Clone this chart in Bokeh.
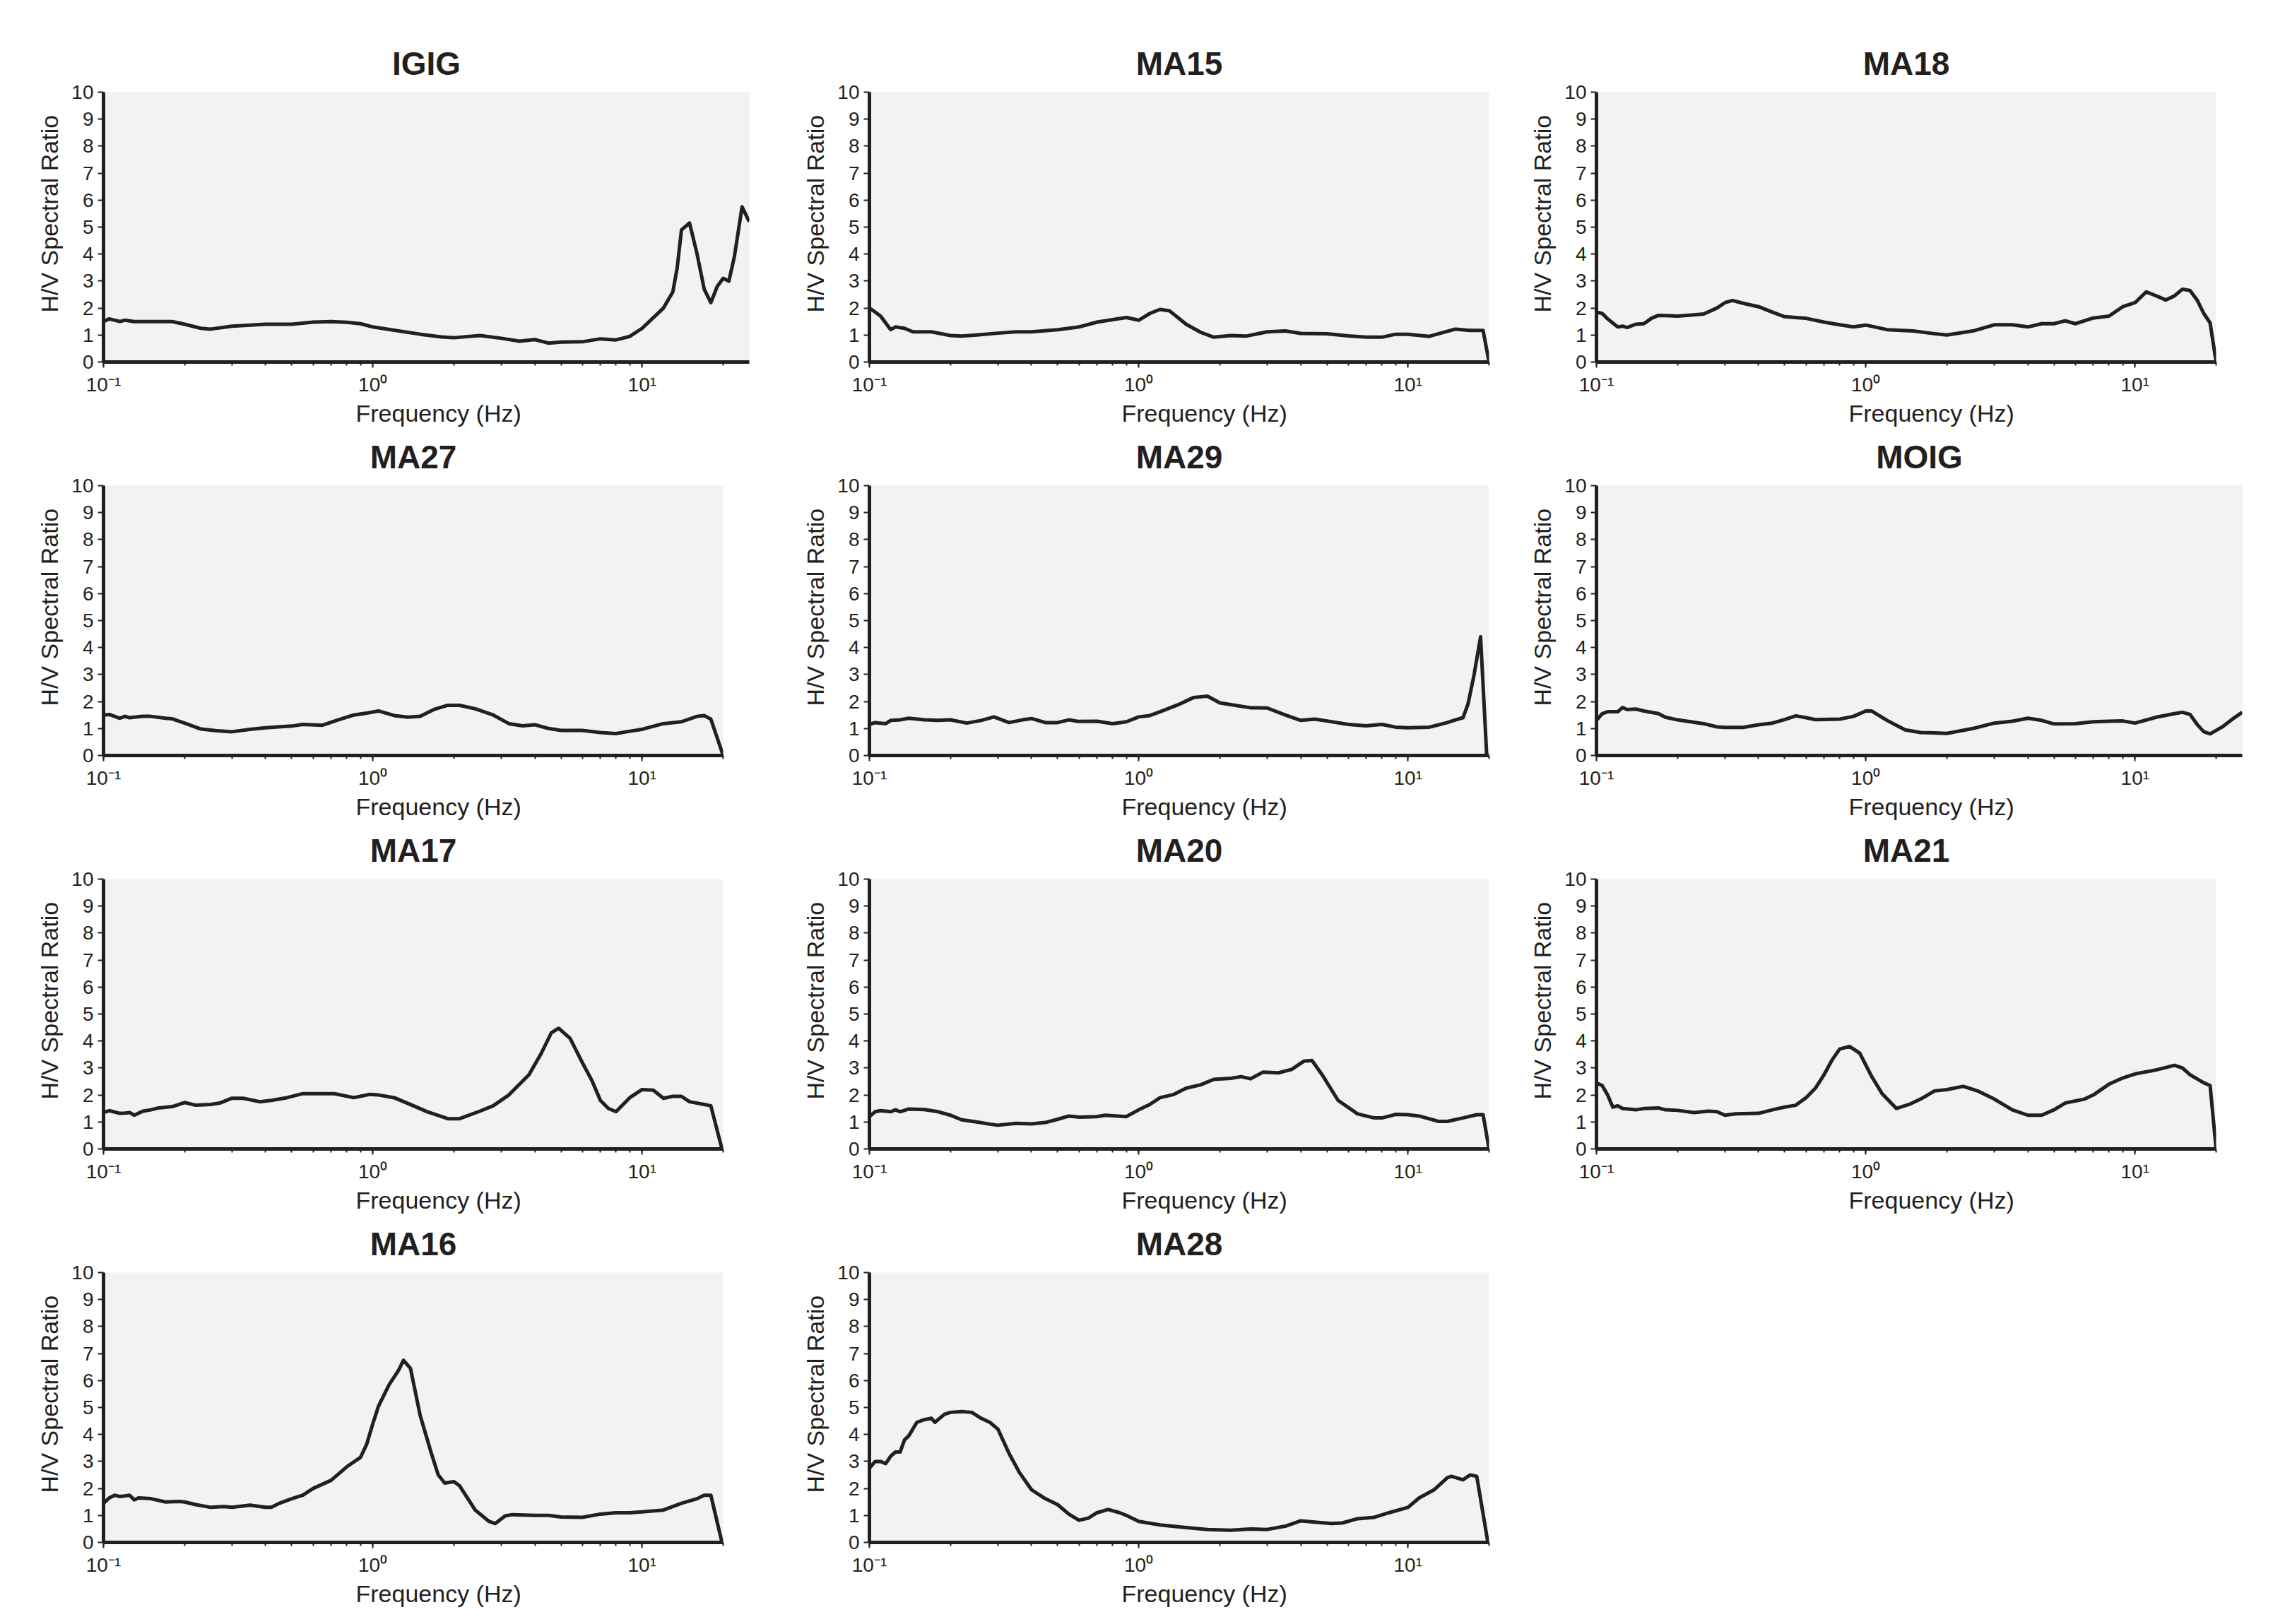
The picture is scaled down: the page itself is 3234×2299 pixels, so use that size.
import math
from bokeh.plotting import figure
from bokeh.layouts import column, row
from bokeh.models import Range1d, FixedTicker, CustomJSTickFormatter, Title
from bokeh.embed import file_html
from bokeh.resources import INLINE

# ---------------- data ----------------
igig_freq = [0.1, 0.105, 0.115, 0.12, 0.13, 0.15, 0.18, 0.2, 0.23, 0.25, 0.3, 0.4, 0.5, 0.6, 0.7, 0.8, 0.9, 1.0,
             1.2, 1.5, 1.8, 2.0, 2.5, 3.0, 3.5, 4.0, 4.5, 5.0, 6.0, 7.0, 8.0, 9.0, 10, 12, 13, 13.5, 14, 15, 16,
             17, 18, 19, 20, 21, 22, 23.5, 25]
igig_hv = [1.5, 1.6, 1.5, 1.55, 1.5, 1.5, 1.5, 1.4, 1.25, 1.22, 1.33, 1.4, 1.4, 1.48, 1.5, 1.47, 1.42, 1.3,
           1.18, 1.03, 0.93, 0.9, 0.98, 0.88, 0.77, 0.83, 0.7, 0.74, 0.75, 0.86, 0.82, 0.95, 1.25, 2.0, 2.6, 3.5,
           4.9, 5.15, 4.0, 2.7, 2.2, 2.8, 3.1, 3.0, 3.9, 5.75, 5.2]

ma15_freq = [0.1, 0.105, 0.11, 0.12, 0.125, 0.135, 0.145, 0.16, 0.17, 0.2, 0.22, 0.25, 0.3, 0.35, 0.4, 0.5, 0.6,
             0.7, 0.8, 0.9, 1.0, 1.1, 1.2, 1.3, 1.5, 1.7, 1.9, 2.2, 2.5, 3, 3.5, 4, 5, 6, 7, 8, 9, 10, 12, 13,
             15, 17, 19, 20]
ma15_hv = [2.0, 1.85, 1.7, 1.2, 1.3, 1.25, 1.12, 1.12, 1.12, 0.98, 0.96, 1.0, 1.07, 1.12, 1.12, 1.2, 1.3, 1.48,
           1.57, 1.65, 1.55, 1.8, 1.95, 1.9, 1.4, 1.1, 0.92, 0.98, 0.96, 1.12, 1.15, 1.06, 1.05, 0.97, 0.92, 0.92,
           1.03, 1.03, 0.95, 1.05, 1.22, 1.17, 1.17, 0.0]

ma18_freq = [0.1, 0.105, 0.11, 0.12, 0.125, 0.13, 0.14, 0.15, 0.16, 0.17, 0.18, 0.2, 0.23, 0.25, 0.28, 0.3, 0.32,
             0.35, 0.4, 0.45, 0.5, 0.6, 0.7, 0.8, 0.9, 1.0, 1.2, 1.5, 1.8, 2.0, 2.5, 3, 3.5, 4, 4.5, 5, 5.5, 6,
             7, 8, 9, 10, 11, 12, 13, 14, 15, 16, 17, 18, 19, 20]
ma18_hv = [1.85, 1.8, 1.6, 1.3, 1.33, 1.28, 1.4, 1.42, 1.62, 1.73, 1.72, 1.7, 1.75, 1.78, 2.0, 2.2, 2.28, 2.18,
           2.05, 1.85, 1.68, 1.62, 1.48, 1.38, 1.3, 1.37, 1.2, 1.15, 1.05, 1.0, 1.15, 1.38, 1.38, 1.3, 1.42, 1.42,
           1.53, 1.42, 1.63, 1.7, 2.05, 2.2, 2.6, 2.45, 2.3, 2.45, 2.7, 2.65, 2.3, 1.8, 1.45, 0.0]

ma27_freq = [0.1, 0.105, 0.115, 0.12, 0.125, 0.13, 0.14, 0.15, 0.17, 0.18, 0.2, 0.23, 0.26, 0.3, 0.35, 0.4, 0.5,
             0.55, 0.65, 0.75, 0.85, 0.95, 1.05, 1.2, 1.35, 1.5, 1.7, 1.9, 2.1, 2.4, 2.8, 3.2, 3.6, 4.0, 4.5, 5,
             6, 7, 8, 9, 10, 12, 14, 16, 17, 18, 20]
ma27_hv = [1.5, 1.52, 1.38, 1.45, 1.4, 1.42, 1.45, 1.45, 1.38, 1.36, 1.2, 0.98, 0.92, 0.88, 0.97, 1.03, 1.09,
           1.15, 1.12, 1.33, 1.5, 1.57, 1.65, 1.48, 1.42, 1.45, 1.72, 1.86, 1.86, 1.73, 1.5, 1.18, 1.1, 1.14, 1.0,
           0.93, 0.93, 0.85, 0.81, 0.9, 0.97, 1.18, 1.25, 1.45, 1.48, 1.35, 0.0]

ma29_freq = [0.1, 0.105, 0.115, 0.12, 0.13, 0.14, 0.16, 0.18, 0.2, 0.23, 0.26, 0.29, 0.33, 0.37, 0.4, 0.45, 0.5,
             0.55, 0.6, 0.7, 0.8, 0.9, 1.0, 1.1, 1.2, 1.4, 1.6, 1.8, 2.0, 2.3, 2.6, 3.0, 3.5, 4.0, 4.5, 5.0, 6.0,
             7.0, 8.0, 9.0, 10, 12, 14, 15, 16, 16.7, 17.6, 18.6, 19.6]
ma29_hv = [1.15, 1.22, 1.18, 1.3, 1.32, 1.38, 1.32, 1.3, 1.32, 1.2, 1.3, 1.43, 1.22, 1.32, 1.37, 1.22, 1.22, 1.32,
           1.26, 1.27, 1.18, 1.25, 1.43, 1.48, 1.62, 1.88, 2.15, 2.2, 1.95, 1.85, 1.77, 1.76, 1.5, 1.3, 1.35, 1.28,
           1.15, 1.1, 1.15, 1.05, 1.03, 1.05, 1.22, 1.32, 1.4, 1.9, 3.0, 4.4, 0.0]

moig_freq = [0.1, 0.105, 0.11, 0.12, 0.125, 0.13, 0.14, 0.15, 0.17, 0.18, 0.2, 0.25, 0.28, 0.3, 0.35, 0.4, 0.45,
             0.5, 0.55, 0.6, 0.65, 0.8, 0.9, 1.0, 1.05, 1.2, 1.4, 1.6, 1.8, 2.0, 2.5, 3, 3.5, 4, 4.5, 5, 6, 7, 8,
             9, 10, 12, 14, 15, 16, 17, 18, 19, 21, 23, 25]
moig_hv = [1.3, 1.55, 1.62, 1.62, 1.78, 1.7, 1.72, 1.65, 1.55, 1.42, 1.32, 1.18, 1.06, 1.04, 1.04, 1.14, 1.2, 1.33,
           1.47, 1.4, 1.33, 1.35, 1.45, 1.65, 1.65, 1.3, 0.95, 0.85, 0.84, 0.82, 1.0, 1.2, 1.27, 1.38, 1.3, 1.17,
           1.18, 1.25, 1.27, 1.28, 1.2, 1.42, 1.55, 1.6, 1.52, 1.15, 0.88, 0.8, 1.05, 1.35, 1.6]

ma17_freq = [0.1, 0.105, 0.115, 0.12, 0.125, 0.13, 0.14, 0.15, 0.16, 0.18, 0.2, 0.22, 0.25, 0.27, 0.3, 0.33, 0.38,
             0.42, 0.48, 0.55, 0.65, 0.72, 0.85, 0.97, 1.05, 1.2, 1.4, 1.6, 1.9, 2.1, 2.5, 2.8, 3.2, 3.8, 4.2, 4.6,
             4.9, 5.4, 6, 6.5, 7, 7.5, 8, 9, 10, 11, 12, 13, 14, 15, 17, 18, 19.8]
ma17_hv = [1.35, 1.42, 1.32, 1.33, 1.35, 1.25, 1.4, 1.45, 1.52, 1.57, 1.72, 1.62, 1.65, 1.7, 1.88, 1.88, 1.75,
           1.8, 1.9, 2.05, 2.05, 2.05, 1.9, 2.02, 2.0, 1.9, 1.62, 1.37, 1.12, 1.12, 1.4, 1.6, 2.0, 2.75, 3.5, 4.3,
           4.47, 4.1, 3.2, 2.55, 1.8, 1.5, 1.38, 1.9, 2.2, 2.18, 1.88, 1.95, 1.95, 1.75, 1.65, 1.6, 0.0]

ma20_freq = [0.1, 0.105, 0.11, 0.12, 0.125, 0.13, 0.14, 0.16, 0.18, 0.2, 0.22, 0.25, 0.28, 0.3, 0.35, 0.4, 0.45,
             0.5, 0.55, 0.6, 0.7, 0.75, 0.9, 1.0, 1.1, 1.2, 1.35, 1.5, 1.7, 1.9, 2.2, 2.4, 2.6, 2.9, 3.3, 3.7, 4.1,
             4.4, 4.8, 5.5, 6.5, 7.5, 8, 9, 10, 11, 13, 14, 16, 18, 19, 20]
ma20_hv = [1.2, 1.38, 1.42, 1.38, 1.45, 1.38, 1.48, 1.46, 1.38, 1.25, 1.08, 1.0, 0.92, 0.88, 0.95, 0.93, 0.98, 1.1,
           1.22, 1.18, 1.2, 1.25, 1.2, 1.45, 1.65, 1.9, 2.02, 2.25, 2.38, 2.58, 2.62, 2.68, 2.6, 2.85, 2.82, 2.95,
           3.25, 3.28, 2.75, 1.8, 1.3, 1.15, 1.15, 1.28, 1.27, 1.22, 1.02, 1.02, 1.15, 1.27, 1.27, 0.0]

ma21_freq = [0.1, 0.105, 0.11, 0.115, 0.12, 0.125, 0.14, 0.15, 0.17, 0.18, 0.2, 0.23, 0.26, 0.28, 0.3, 0.33, 0.4,
             0.45, 0.5, 0.55, 0.6, 0.65, 0.7, 0.75, 0.8, 0.87, 0.95, 1.05, 1.15, 1.3, 1.45, 1.6, 1.8, 2.0, 2.3, 2.6,
             3.0, 3.5, 4.0, 4.5, 5.0, 5.5, 6.5, 7, 8, 9, 10, 12, 14, 15, 16, 18, 19, 20]
ma21_hv = [2.45, 2.35, 2.0, 1.55, 1.6, 1.5, 1.45, 1.5, 1.52, 1.45, 1.43, 1.35, 1.4, 1.38, 1.25, 1.3, 1.32, 1.45,
           1.55, 1.62, 1.9, 2.25, 2.75, 3.3, 3.7, 3.8, 3.55, 2.7, 2.05, 1.5, 1.65, 1.85, 2.15, 2.2, 2.32, 2.15,
           1.85, 1.45, 1.25, 1.25, 1.45, 1.7, 1.85, 2.0, 2.4, 2.63, 2.78, 2.93, 3.1, 3.0, 2.75, 2.45, 2.35, 0.0]

ma16_freq = [0.1, 0.105, 0.11, 0.115, 0.12, 0.125, 0.13, 0.135, 0.15, 0.17, 0.19, 0.2, 0.22, 0.25, 0.28, 0.3,
             0.35, 0.4, 0.42, 0.45, 0.5, 0.55, 0.6, 0.7, 0.8, 0.9, 0.95, 1.0, 1.05, 1.15, 1.25, 1.3, 1.38, 1.5,
             1.65, 1.75, 1.85, 2.0, 2.1, 2.4, 2.7, 2.85, 3.1, 3.3, 4, 4.5, 5, 6, 7, 8, 9, 10, 12, 14, 16, 17, 18,
             19.8]
ma16_hv = [1.45, 1.65, 1.75, 1.7, 1.72, 1.75, 1.58, 1.65, 1.62, 1.5, 1.52, 1.5, 1.4, 1.3, 1.33, 1.3, 1.38, 1.3,
           1.3, 1.45, 1.62, 1.75, 2.0, 2.3, 2.8, 3.15, 3.65, 4.4, 5.05, 5.85, 6.4, 6.75, 6.45, 4.7, 3.3, 2.5, 2.2,
           2.25, 2.1, 1.2, 0.78, 0.7, 0.98, 1.03, 1.0, 1.0, 0.94, 0.93, 1.05, 1.1, 1.1, 1.13, 1.2, 1.45, 1.62,
           1.75, 1.75, 0.0]

ma28_freq = [0.1, 0.105, 0.11, 0.115, 0.12, 0.125, 0.13, 0.135, 0.14, 0.15, 0.16, 0.17, 0.175, 0.18, 0.19, 0.2,
             0.22, 0.24, 0.26, 0.28, 0.3, 0.33, 0.36, 0.4, 0.45, 0.5, 0.55, 0.6, 0.65, 0.7, 0.77, 0.85, 0.9, 1.0,
             1.2, 1.5, 1.8, 2.2, 2.6, 3.0, 3.5, 4.0, 4.5, 5.2, 5.7, 6.5, 7.5, 8.5, 10, 11, 12.5, 14, 14.5, 16, 17,
             18, 19.8]
ma28_hv = [2.75, 3.0, 3.0, 2.92, 3.2, 3.35, 3.35, 3.8, 3.95, 4.45, 4.55, 4.6, 4.45, 4.55, 4.75, 4.82, 4.85, 4.82,
           4.6, 4.45, 4.2, 3.3, 2.6, 1.95, 1.62, 1.4, 1.05, 0.82, 0.9, 1.1, 1.22, 1.1, 1.0, 0.78, 0.65, 0.55,
           0.48, 0.45, 0.5, 0.48, 0.6, 0.8, 0.75, 0.7, 0.72, 0.88, 0.93, 1.1, 1.3, 1.65, 1.95, 2.4, 2.45, 2.32,
           2.5, 2.45, 0.0]

stations = [
    ["IGIG", "MA15", "MA18"],
    ["MA27", "MA29", "MOIG"],
    ["MA17", "MA20", "MA21"],
    ["MA16", "MA28"],
]
freq_max = {"IGIG": 25, "MOIG": 25}
series = {
    "IGIG": (igig_freq, igig_hv), "MA15": (ma15_freq, ma15_hv), "MA18": (ma18_freq, ma18_hv),
    "MA27": (ma27_freq, ma27_hv), "MA29": (ma29_freq, ma29_hv), "MOIG": (moig_freq, moig_hv),
    "MA17": (ma17_freq, ma17_hv), "MA20": (ma20_freq, ma20_hv), "MA21": (ma21_freq, ma21_hv),
    "MA16": (ma16_freq, ma16_hv), "MA28": (ma28_freq, ma28_hv),
}
y_ticks = list(range(0, 11))
x_title = "Frequency (Hz)"
y_title = "H/V Spectral Ratio"

# ---------------- style / layout ----------------
FONT = "Liberation Sans"
INK = "#231f20"
DECADE_PX = 381
FRAME_H = 382
COL_LEFT = [146, 110, 110]
COL_WIDTH = [1120, 1029, 1069]
ROW_TOP = [130, 83, 83, 83]
ROW_BOTTOM = 92
XLABEL_CENTER_HZ = 1.85
XLABEL_HALF_WIDTH = 126   # half the rendered width of the x title at 34px (plus nudge)
YLABEL_FROM_BOTTOM = 70   # distance of the y title start from the frame bottom

SUP_JS = """
const e = Math.round(Math.log10(tick));
const m = {"-": "\\u207b", "0": "\\u2070", "1": "\\u00b9", "2": "\\u00b2", "3": "\\u00b3"};
return "10" + String(e).split("").map(c => m[c]).join("");
"""


def make_panel(name, ri, ci):
    freq, hv = series[name]
    xmax = freq_max.get(name, 20)
    fw = round(math.log10(xmax / 0.1) * DECADE_PX)
    left = COL_LEFT[ci]
    width = COL_WIDTH[ci]
    right = width - left - fw
    p = figure(width=width, height=ROW_TOP[ri] + FRAME_H + ROW_BOTTOM,
               x_axis_type="log", x_range=Range1d(0.1, xmax), y_range=Range1d(0, 10),
               output_backend="svg", toolbar_location=None, title=name,
               min_border_left=left, min_border_right=right,
               min_border_top=ROW_TOP[ri], min_border_bottom=ROW_BOTTOM,
               background_fill_color="#f2f2f2", border_fill_color="white",
               outline_line_color=None)
    p.title.align = "center"
    p.title.text_font = FONT
    p.title.text_font_size = "46px"
    p.title.text_font_style = "bold"
    p.title.text_color = INK
    p.title.standoff = 29

    p.xgrid.visible = False
    p.ygrid.visible = False

    xa = p.xaxis[0]
    xa.formatter = CustomJSTickFormatter(code=SUP_JS)
    xa.axis_line_width = 5
    xa.axis_line_color = INK
    xa.major_tick_out = 8
    xa.major_tick_in = 0
    xa.minor_tick_out = 5
    xa.minor_tick_in = 0
    xa.major_tick_line_width = 2
    xa.minor_tick_line_width = 2
    xa.major_tick_line_color = INK
    xa.minor_tick_line_color = INK
    xa.major_label_text_font = FONT
    xa.major_label_text_font_size = "28px"
    xa.major_label_text_color = INK
    xa.major_label_standoff = 8

    ya = p.yaxis[0]
    ya.ticker = FixedTicker(ticks=y_ticks)
    ya.axis_line_width = 5
    ya.axis_line_color = INK
    ya.major_tick_out = 8
    ya.major_tick_in = 0
    ya.minor_tick_out = 0
    ya.minor_tick_in = 0
    ya.major_tick_line_width = 2
    ya.major_tick_line_color = INK
    ya.major_label_text_font = FONT
    ya.major_label_text_font_size = "28px"
    ya.major_label_text_color = INK
    ya.major_label_standoff = 6

    # y-axis title, placed as in the reference (a little above centre)
    p.add_layout(Title(text=y_title, align="left", offset=YLABEL_FROM_BOTTOM, standoff=20,
                       text_font=FONT, text_font_size="34px", text_font_style="normal",
                       text_color=INK), "left")

    # x-axis title, centred near 1.85 Hz as in the reference
    centre_px = (math.log10(XLABEL_CENTER_HZ) - math.log10(0.1)) * DECADE_PX
    p.add_layout(Title(text=x_title, align="left", offset=round(centre_px - XLABEL_HALF_WIDTH), standoff=2,
                       text_font=FONT, text_font_size="34px", text_font_style="normal",
                       text_color=INK), "below")

    p.line(freq, hv, line_width=5, line_color=INK, line_join="round")
    return p


rows = []
for ri, names in enumerate(stations):
    rows.append(row(*[make_panel(n, ri, ci) for ci, n in enumerate(names)]))
layout = column(*rows)

open("out.html", "w").write(file_html(layout, INLINE))
